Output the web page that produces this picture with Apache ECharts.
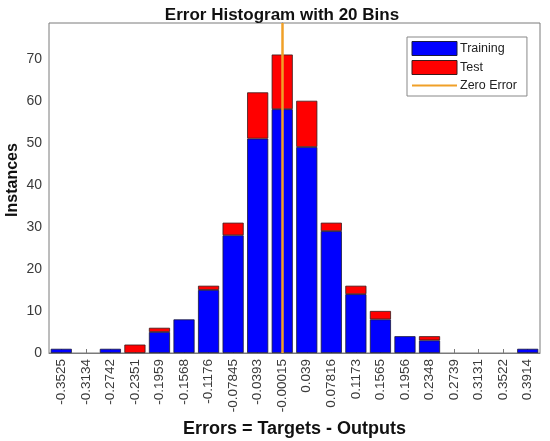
<!DOCTYPE html>
<html>
<head>
<meta charset="utf-8">
<script src="https://cdn.jsdelivr.net/npm/echarts@6/dist/echarts.min.js"></script>
<style>
  html, body { margin: 0; padding: 0; background: #fff; }
  #chart { width: 550px; height: 441px; }
</style>
</head>
<body>
<div id="chart"></div>
<script>
// Bin centres of the error histogram (tick labels)
const binLabels = ['-0.3525', '-0.3134', '-0.2742', '-0.2351', '-0.1959', '-0.1568', '-0.1176',
  '-0.07845', '-0.0393', '-0.00015', '0.039', '0.07816', '0.1173', '0.1565', '0.1956',
  '0.2348', '0.2739', '0.3131', '0.3522', '0.3914'];

// Instance counts per bin
const trainingCounts = [1, 0, 1, 0, 5, 8, 15, 28, 51, 58, 49, 29, 14, 8, 4, 3, 0, 0, 0, 1];
const testCounts     = [0, 0, 0, 2, 1, 0, 1, 3, 11, 13, 11, 2, 2, 2, 0, 1, 0, 0, 0, 0];

// Position of the zero-error reference line (in error units)
const zeroError = 0;

const yTicks = [0, 10, 20, 30, 40, 50, 60, 70];

// Outer edges of the first and last bins, used for the numeric x axis
const firstCentre = parseFloat(binLabels[0]);
const lastCentre = parseFloat(binLabels[binLabels.length - 1]);
const binWidth = (lastCentre - firstCentre) / (binLabels.length - 1);
const xMin = firstCentre - binWidth / 2;
const xMax = lastCentre + binWidth / 2;
const yMax = 78.5;

const hideZero = v => (v === 0 ? '-' : v);

const chart = echarts.init(document.getElementById('chart'), null, { renderer: 'canvas' });

const fontFamily = 'Liberation Sans, Arial, Helvetica, sans-serif';
const axisGray = '#7a7a7a';
const zeroColor = '#F0A028';

chart.setOption({
  animation: false,
  backgroundColor: '#ffffff',
  textStyle: { fontFamily: fontFamily },
  title: {
    text: 'Error Histogram with 20 Bins',
    left: 277,
    top: 2,
    textAlign: 'center',
    textStyle: { fontSize: 17, fontWeight: 'bold', color: '#111', fontFamily: fontFamily }
  },
  legend: {
    orient: 'vertical',
    left: 407,
    top: 37,
    padding: [4, 10, 4, 4],
    itemGap: 4,
    itemWidth: 45,
    itemHeight: 14,
    borderColor: '#888',
    borderWidth: 1,
    borderRadius: 0,
    backgroundColor: '#fff',
    textStyle: { fontSize: 12.5, color: '#222', fontFamily: fontFamily, padding: [0, 0, 0, -2] },
    data: [
      { name: 'Training', icon: 'rect', itemStyle: { borderWidth: 1 } },
      { name: 'Test', icon: 'rect', itemStyle: { borderWidth: 1 } },
      { name: 'Zero Error', itemStyle: { opacity: 0 } }
    ]
  },
  grid: {
    left: 49,
    right: 10,
    top: 23,
    bottom: 88,
    show: true,
    borderColor: axisGray,
    borderWidth: 1,
    containLabel: false,
    outerBoundsMode: 'none'
  },
  xAxis: [
    {
      type: 'category',
      data: binLabels,
      boundaryGap: true,
      name: 'Errors = Targets - Outputs',
      nameLocation: 'middle',
      nameGap: 64,
      nameTextStyle: { fontSize: 18, fontWeight: 'bold', color: '#111', fontFamily: fontFamily },
      axisLine: { lineStyle: { color: axisGray, width: 1 } },
      axisTick: { show: true, inside: true, alignWithLabel: true, length: 4, lineStyle: { color: axisGray } },
      axisLabel: {
        rotate: 90,
        interval: 0,
        margin: 6,
        fontSize: 13.5,
        color: '#3a3a3a',
        fontFamily: fontFamily,
        padding: [8, 0, 0, 0]
      },
      splitLine: { show: false }
    },
    {
      type: 'value',
      min: xMin,
      max: xMax,
      show: false
    }
  ],
  yAxis: {
    type: 'value',
    min: 0,
    max: yMax,
    interval: 10,
    name: 'Instances',
    nameLocation: 'middle',
    nameGap: 28,
    nameMoveOverlap: false,
    nameTextStyle: { fontSize: 16, fontWeight: 'bold', color: '#111', fontFamily: fontFamily, padding: [0, 0, 0, 16] },
    axisLine: { show: true, lineStyle: { color: axisGray, width: 1 } },
    axisTick: { show: true, inside: true, length: 4, lineStyle: { color: axisGray } },
    axisLabel: {
      fontSize: 14,
      color: '#3a3a3a',
      margin: 7,
      fontFamily: fontFamily,
      showMaxLabel: false,
      formatter: v => (yTicks.indexOf(v) >= 0 ? String(v) : '')
    },
    splitLine: { show: false }
  },
  series: [
    {
      name: 'Training',
      type: 'bar',
      stack: 'errors',
      barCategoryGap: '14%',
      data: trainingCounts.map(hideZero),
      itemStyle: { color: '#0000FF', borderColor: '#1a1a3a', borderWidth: 0.8 },
      z: 2
    },
    {
      name: 'Test',
      type: 'bar',
      stack: 'errors',
      barCategoryGap: '14%',
      data: testCounts.map(hideZero),
      itemStyle: { color: '#FF0000', borderColor: '#3a1a1a', borderWidth: 0.8 },
      z: 2
    },
    {
      // Vertical reference line at zero error, spanning the full plot height
      name: 'Zero Error',
      type: 'line',
      xAxisIndex: 1,
      yAxisIndex: 0,
      symbol: 'none',
      data: [],
      lineStyle: { color: zeroColor, width: 2.5 },
      itemStyle: { color: zeroColor },
      markLine: {
        silent: true,
        symbol: 'none',
        label: { show: false },
        lineStyle: { color: zeroColor, width: 2.5, type: 'solid' },
        data: [{ xAxis: zeroError }]
      },
      z: 5
    }
  ]
});
</script>
</body>
</html>
